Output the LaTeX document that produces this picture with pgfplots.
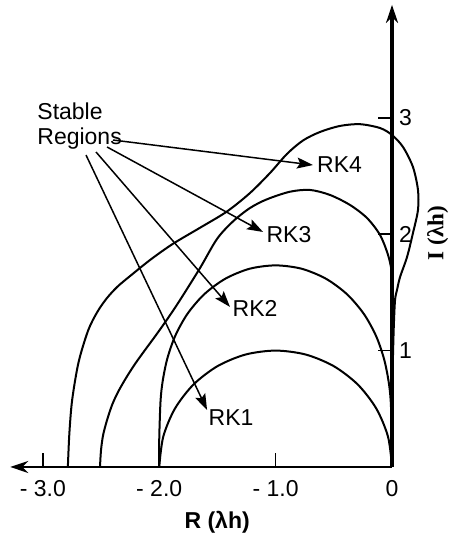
\documentclass[border=0pt]{standalone}
\usepackage{fontspec}
\setmainfont{Liberation Sans}
\newfontfamily\serifb{Liberation Serif}
\usepackage{pgfplots}
\pgfplotsset{compat=1.18}
\usetikzlibrary{arrows.meta}
\newcommand\fs{\fontsize{11.5}{12.5}\selectfont}
\begin{document}
\begin{tikzpicture}
\begin{axis}[
  x=58.2pt, y=58.2pt,
  xmin=-3.28, xmax=0, ymin=0, ymax=3.97,
  axis x line=bottom, axis y line=right,
  x axis line style={line width=1.3pt, arrows={Stealth[length=9pt,width=6pt]-}},
  y axis line style={line width=1.6pt, arrows={-Stealth[length=9pt,width=6pt]}},
  tick align=inside,
  major tick length=7pt,
  tick style={line width=0.8pt, black},
  xtick={-3,-2,-1,0},
  xticklabels={- 3.0,- 2.0,- 1.0,0},
  ytick={1,2,3},
  /pgf/number format/assume math mode=true,
  ticklabel style={font=\fs},
  xticklabel style={yshift=-3pt},
  xlabel={\bfseries R (λh)},
  ylabel={\serifb\bfseries I (λh)},
  every axis x label/.style={at={(axis description cs:0.542,-0.1195)}, anchor=center, inner sep=0pt, font=\fs},
  every axis y label/.style={at={(axis description cs:1.120,0.506)}, anchor=center, inner sep=0pt, rotate=90, font=\fs},
  clip=false,
]
% RK1
\addplot[line width=1pt, smooth] coordinates {
(0,0) (-0.0341,0.2588) (-0.1340,0.5) (-0.2929,0.7071) (-0.5,0.8660) (-0.7412,0.9659) (-1,1)
(-1.2588,0.9659) (-1.5,0.8660) (-1.7071,0.7071) (-1.8660,0.5) (-1.9659,0.2588) (-2,0)};
% RK2
\addplot[line width=1pt, smooth] coordinates {
(0,0) (0,0.132) (-0.0006,0.268) (-0.0115,0.571) (-0.0307,0.744) (-0.0694,0.931) (-0.1368,1.125)
(-0.2413,1.314) (-0.3856,1.483) (-0.567,1.617) (-0.776,1.703) (-1,1.732) (-1.224,1.703)
(-1.433,1.617) (-1.6144,1.483) (-1.7587,1.314) (-1.8632,1.125) (-1.9306,0.931) (-1.9693,0.744)
(-1.9885,0.571) (-1.9994,0.268) (-2,0.132) (-2,0)};
% RK3
\addplot[line width=1pt, smooth] coordinates {
(-2.509,0) (-2.500,0.146) (-2.482,0.275) (-2.448,0.404) (-2.405,0.533) (-2.354,0.644)
(-2.285,0.765) (-2.208,0.885) (-2.122,1.005) (-2.027,1.134) (-1.924,1.280) (-1.821,1.435)
(-1.649,1.710) (-1.503,1.960) (-1.366,2.110) (-1.220,2.225) (-1.074,2.300) (-0.876,2.365)
(-0.704,2.380) (-0.533,2.337) (-0.361,2.251) (-0.215,2.139) (-0.103,1.993) (-0.034,1.821)
(-0.003,1.675) (0,1.5) (0,1.2) (0,0.8) (0,0.4) (0,0)};
% RK4
\addplot[line width=1pt, smooth] coordinates {
(-2.785,0) (-2.772,0.29) (-2.748,0.576) (-2.693,0.900) (-2.610,1.175) (-2.530,1.335)
(-2.450,1.450) (-2.360,1.548) (-2.251,1.640) (-2.07,1.785) (-1.881,1.918) (-1.65,2.055)
(-1.418,2.195) (-1.220,2.354) (-1.048,2.526) (-0.902,2.690) (-0.765,2.805) (-0.619,2.878)
(-0.447,2.930) (-0.275,2.945) (-0.103,2.912) (0,2.852) (0.0945,2.749) (0.180,2.577)
(0.223,2.380) (0.223,2.208) (0.180,2.010) (0.129,1.804) (0.069,1.632) (0.043,1.521)
(0.026,1.435) (0.015,1.2) (0.007,0.9) (0.002,0.6) (0,0.3) (0,0)};
% annotations
\node[anchor=north west, align=left, inner sep=0pt, font=\fs] at (axis cs:-3.05,3.136) {Stable\\Regions};
\node[font=\fs, inner sep=0pt] at (axis cs:-0.451,2.599) {RK4};
\node[font=\fs, inner sep=0pt] at (axis cs:-0.885,1.993) {RK3};
\node[font=\fs, inner sep=0pt] at (axis cs:-1.177,1.366) {RK2};
\node[font=\fs, inner sep=0pt] at (axis cs:-1.383,0.421) {RK1};
\draw[line width=0.75pt, -{Stealth[length=8pt,width=5.5pt,inset=1.5pt]}] (axis cs:-2.397,2.809) -- (axis cs:-0.679,2.594);
\draw[line width=0.75pt, -{Stealth[length=8pt,width=5.5pt,inset=1.5pt]}] (axis cs:-2.448,2.749) -- (axis cs:-1.108,2.019);
\draw[line width=0.75pt, -{Stealth[length=8pt,width=5.5pt,inset=1.5pt]}] (axis cs:-2.543,2.706) -- (axis cs:-1.392,1.375);
\draw[line width=0.75pt, -{Stealth[length=8pt,width=5.5pt,inset=1.5pt]}] (axis cs:-2.629,2.680) -- (axis cs:-1.589,0.490);
\path (axis cs:-3.368,-0.593) rectangle (axis cs:0.610,4.012);
\end{axis}
\end{tikzpicture}
\end{document}
